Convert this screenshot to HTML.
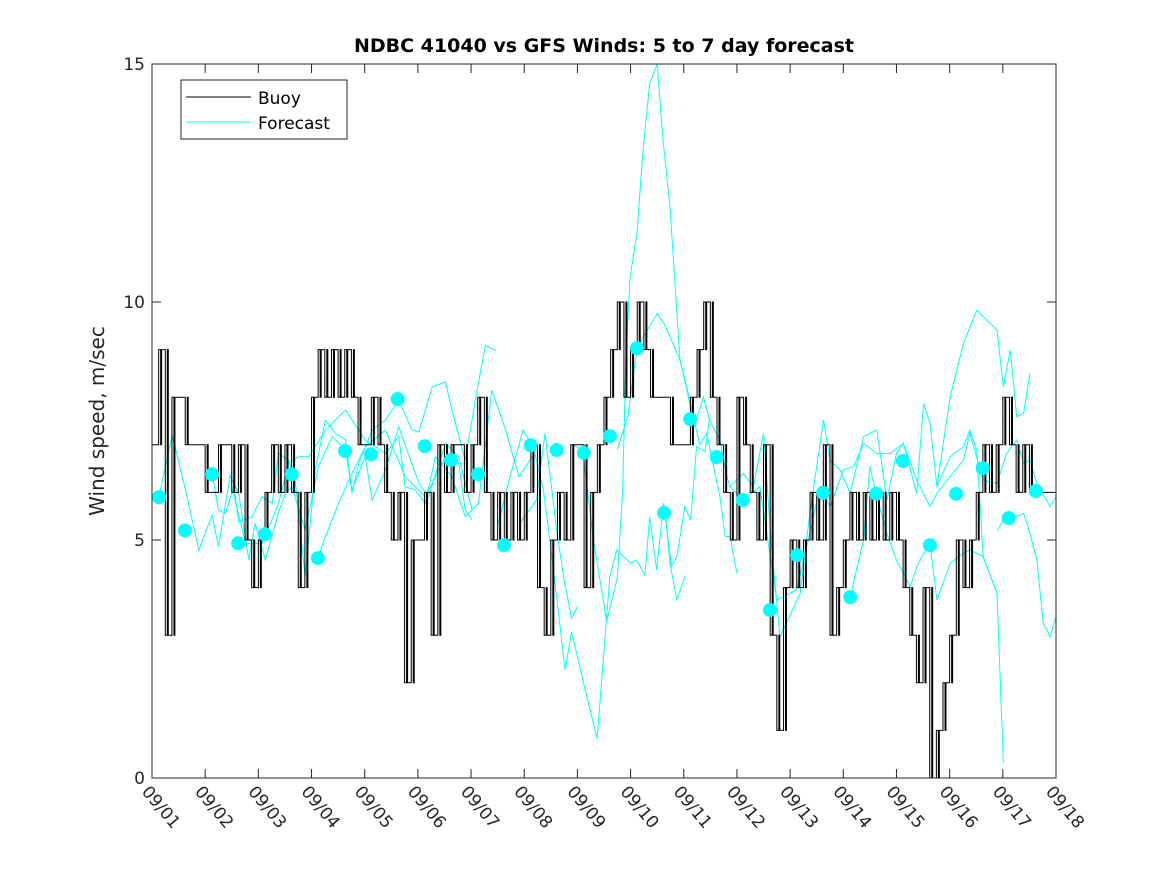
<!DOCTYPE html>
<html><head><meta charset="utf-8"><style>
body{margin:0;background:#fff}
svg{display:block;font-family:"DejaVu Sans","Liberation Sans",sans-serif}
</style></head><body>
<svg id="chart" width="1167" height="875" viewBox="0 0 1167 875">
<rect width="1167" height="875" fill="#fff"/>
<text x="604" y="52" text-anchor="middle" font-size="19" font-weight="bold" fill="#000">NDBC 41040 vs GFS Winds: 5 to 7 day forecast</text>
<text transform="translate(104,421) rotate(-90)" text-anchor="middle" font-size="20" fill="#262626">Wind speed, m/sec</text>
<g id="plot"></g>
<rect x="152" y="64" width="904" height="714" fill="none" stroke="#262626" stroke-width="1"/>
<g>
<rect x="181" y="80" width="166" height="59" fill="#fff" stroke="#262626"/>
<line x1="186" y1="97" x2="251" y2="97" stroke="#000"/>
<text x="258" y="104" font-size="17" fill="#000">Buoy</text>
<line x1="186" y1="122" x2="251" y2="122" stroke="#00ffff"/>
<text x="258" y="129" font-size="17" fill="#000">Forecast</text>
</g>
</svg>
<script>
const xTicks=["09/01","09/02","09/03","09/04","09/05","09/06","09/07","09/08","09/09","09/10","09/11","09/12","09/13","09/14","09/15","09/16","09/17","09/18"];
const yTicks=[0,5,10,15];
const buoy=[7,9,3,8,8,7,7,7, 6,6,7,7,6,7,5,4, 5,6,7,6,7,6,4,6, 8,9,8,9,8,9,8,7, 7,8,7,6,5,6,2,5, 5,6,3,7,6,7,7,6, 7,8,6,5,6,5,6,5, 6,7,4,3,5,6,5,7, 7,4,6,7,8,9,10,8, 9,10,9,8,8,8,7,7, 7,8,9,10,8,7,6,5, 8,7,6,5,7,3,1,4, 5,4,5,6,5,7,3,4, 5,6,5,6,5,6,5,6, 5,4,3,2,4,0,1,2, 3,5,4,5,6,7,6,7, 8,7,6,7,6,6,6,6];
const dotDays=[0.13,0.62,1.13,1.62,2.12,2.63,3.12,3.63,4.12,4.62,5.13,5.62,6.13,6.62,7.12,7.61,8.12,8.61,9.12,9.63,10.12,10.62,11.11,11.62,12.13,12.62,13.13,13.62,14.12,14.63,15.12,15.62,16.11,16.62];
const dotVals=[5.9,5.2,6.38,4.93,5.12,6.38,4.62,6.87,6.8,7.96,6.97,6.68,6.38,4.89,6.99,6.89,6.83,7.18,9.03,5.57,7.54,6.74,5.84,3.53,4.68,5.99,3.8,5.97,6.66,4.89,5.97,6.51,5.46,6.03];
const fA=[[0.13,5.91],[0.38,7.2],[0.63,6.05],[0.88,4.79],[1.13,5.52],[1.25,4.86],[1.47,6.36],[1.63,5.98],[1.82,4.58],[1.94,5.35],[2.13,4.58],[2.38,5.59],[2.51,5.98],[2.63,6.12]];
const fB=[[1.13,6.4],[1.25,5.63],[1.38,5.56],[1.54,6.12],[1.63,5.38],[1.88,5.49],[2.07,5.91],[2.26,5.77],[2.38,6.82],[2.57,6.68],[2.7,6.19],[2.88,4.23],[3.07,6.47],[3.26,7.52],[3.45,7.24],[3.64,7.1],[3.76,5.98],[3.89,6.61],[4.14,7.31],[4.39,7.52],[4.64,7.94],[4.89,7.31],[5.02,7.27],[5.27,8.22],[5.52,8.32],[5.64,7.73],[5.89,6.68],[6.08,7.94],[6.27,9.09],[6.46,8.98]];
const fC=[[1.5,6.12],[1.76,4.93],[2.07,4.93],[2.38,5.77],[2.57,6.61],[2.76,6.75],[2.95,6.75],[3.26,7.31],[3.64,7.73],[4.01,7.1],[4.39,6.82],[4.64,7.17],[4.76,6.12],[4.95,6.05],[5.14,5.77],[5.33,6.75],[5.64,6.33],[5.89,5.49],[6.14,5.77],[6.39,8.15],[6.65,7.31],[6.9,6.33],[7.15,6.75]];
const fD=[[2.63,6.12],[2.88,5.21],[3.13,6.54],[3.39,7.17],[3.64,6.89],[3.76,6.05],[4.01,6.75],[4.14,5.84],[4.39,6.47],[4.64,7.38],[5.02,6.19],[5.2,5.91],[5.52,7.03],[5.77,6.75],[5.89,6.19],[6.02,5.63]];
const fE=[[3.13,4.65],[3.26,5.07],[3.51,5.77],[3.76,6.4],[4.01,6.96],[4.39,7.31],[4.76,6.33],[5.14,5.91],[5.52,6.75],[5.77,6.61],[5.89,5.63],[6.02,5.42]];
const fF=[[6.5,5.3],[6.75,6.4],[6.98,7.31],[7.17,6.96],[7.36,6.05],[7.52,4.65],[7.77,2.27],[7.89,3.07],[8.14,1.88],[8.37,0.83],[8.61,4.23],[8.74,4.79],[9.0,4.51],[9.11,4.58],[9.27,4.26],[9.36,5.49],[9.49,4.37],[9.62,5.77],[9.77,4.44],[9.87,4.65],[10.02,5.7],[10.13,5.42],[10.24,6.96],[10.4,6.86],[10.49,7.59]];
const fG=[[6.92,5.35],[7.23,5.84],[7.39,7.24],[7.61,5.21],[7.74,4.23],[7.89,3.35],[8.0,3.6]];
const fH=[[7.9,7.0],[8.1,6.9],[8.3,5.0],[8.55,3.3],[8.75,4.2],[8.85,6.0],[8.91,8.78],[8.99,10.52],[9.12,11.45],[9.23,13.13],[9.36,14.6],[9.5,15.0],[9.61,13.4],[9.74,12.0],[9.93,8.78],[10.05,8.2],[10.2,7.4],[10.37,8.0],[10.49,7.5],[10.68,7.1],[10.81,6.33],[10.87,6.12],[11.12,6.4],[11.31,6.12],[11.5,7.24],[11.65,4.86],[11.81,2.97],[12.19,3.88],[12.37,5.56],[12.63,7.52],[12.75,6.68],[12.94,6.47],[13.13,5.98],[13.38,7.17],[13.63,7.31],[13.82,5.84],[14.0,6.82],[14.13,7.03],[14.38,5.98],[14.51,7.87],[14.63,7.45],[14.76,6.12],[15.01,6.75],[15.26,6.96],[15.38,7.31],[15.51,6.89],[15.63,4.65],[15.89,3.88],[16.01,0.31]];
const fI=[[8.75,6.9],[8.95,7.6],[9.12,9.03],[9.5,9.76],[9.63,9.55],[9.93,8.78],[10.1,8.0],[10.3,7.0],[10.43,7.24],[10.68,5.91],[10.78,5.07],[10.87,5.07],[11.0,4.3]];
const fJ=[[9.65,5.63],[9.74,4.51],[9.87,3.74],[10.02,4.23]];
const fK=[[10.87,6.12],[11.12,5.84],[11.43,6.12],[11.75,3.74],[12.12,3.95],[12.37,5.14],[12.56,6.12],[12.75,5.7],[13.0,6.47],[13.19,6.54],[13.38,7.03],[13.63,6.82],[13.88,6.82],[14.13,7.03],[14.38,6.26],[14.63,5.7],[14.76,5.98],[15.01,6.33],[15.26,6.68],[15.38,7.24],[15.63,6.26],[15.89,6.19],[16.07,6.82],[16.26,7.1],[16.39,6.61],[16.51,6.68],[16.64,6.19],[16.89,5.7],[17.0,5.91]];
const fL=[[15.9,5.2],[16.1,5.6],[16.26,5.49],[16.39,5.56],[16.51,5.14],[16.64,4.58],[16.76,3.25],[16.89,2.97],[17.0,3.39]];
const fM=[[13.13,3.81],[13.38,5.0],[13.5,6.54],[13.63,5.91],[13.82,5.14],[14.0,4.58],[14.26,4.02],[14.38,4.44],[14.51,4.72],[14.63,4.93],[14.76,3.74],[15.01,4.51],[15.26,4.72],[15.38,4.79],[15.63,4.65],[15.89,3.88]];
const fN=[[14.76,6.12],[15.01,8.01],[15.26,9.13],[15.51,9.83],[15.89,9.41],[16.01,8.22],[16.14,8.99],[16.26,7.59],[16.39,7.66],[16.51,8.5]];
const forecasts=[fA,fB,fC,fD,fE,fF,fG,fH,fI,fJ,fK,fL,fM,fN];

const X0=152,X1=1056,Y0=778,Y1=64,DAYS=17,YMAX=15;
const xs=d=>X0+(X1-X0)*Math.min(d,DAYS)/DAYS;
const ys=v=>Y0-(Y0-Y1)*v/YMAX;
const NS="http://www.w3.org/2000/svg";
const g=document.getElementById('plot');
function mk(t,a){const e=document.createElementNS(NS,t);for(const k in a)e.setAttribute(k,a[k]);g.appendChild(e);return e;}

yTicks.forEach(v=>{
  const l=mk('path',{d:`M${X0} ${ys(v)}h9M${X1} ${ys(v)}h-9`,stroke:'#262626'});
  
  
  const t=mk('text',{x:X0-7,y:ys(v)+6,'text-anchor':'end','font-size':17,fill:'#262626'});
  t.textContent=v;
  
  
});
xTicks.forEach((s,i)=>{
  const x=xs(i);
  const l=mk('path',{d:`M${x} ${Y0}v-9M${x} ${Y1}v9`,stroke:'#262626'});
  
  
  const t=mk('text',{transform:`translate(${x-11},${Y0+14}) rotate(50)`,'font-size':17,fill:'#262626'});
  t.textContent=s;
  
  
});

forecasts.forEach((f,k)=>{
  const p=mk('polyline',{points:f.map(q=>xs(q[0])+','+ys(q[1])).join(' '),fill:'none',stroke:'#00ffff','stroke-width':1});
  
  
});

let pts=[];
const step=DAYS/buoy.length;
buoy.forEach((v,i)=>{
  const xa=xs(i*step),xb=xs((i+1)*step);
  const prev=i>0?buoy[i-1]:v;
  pts.push(xa+','+ys(v));
  if(prev!==v){
    pts.push((xa+2)+','+ys(v));pts.push((xa+2)+','+ys(prev));pts.push((xa+3)+','+ys(prev));pts.push((xa+3)+','+ys(v));
  }
  pts.push(xb+','+ys(v));
});
const b=mk('polyline',{points:pts.join(' '),fill:'none',stroke:'#000','stroke-width':1});



dotDays.forEach((d,i)=>{
  const c=mk('circle',{cx:xs(d),cy:ys(dotVals[i]),r:7,fill:'#00ffff'});
  
  
});
</script>
</body></html>
